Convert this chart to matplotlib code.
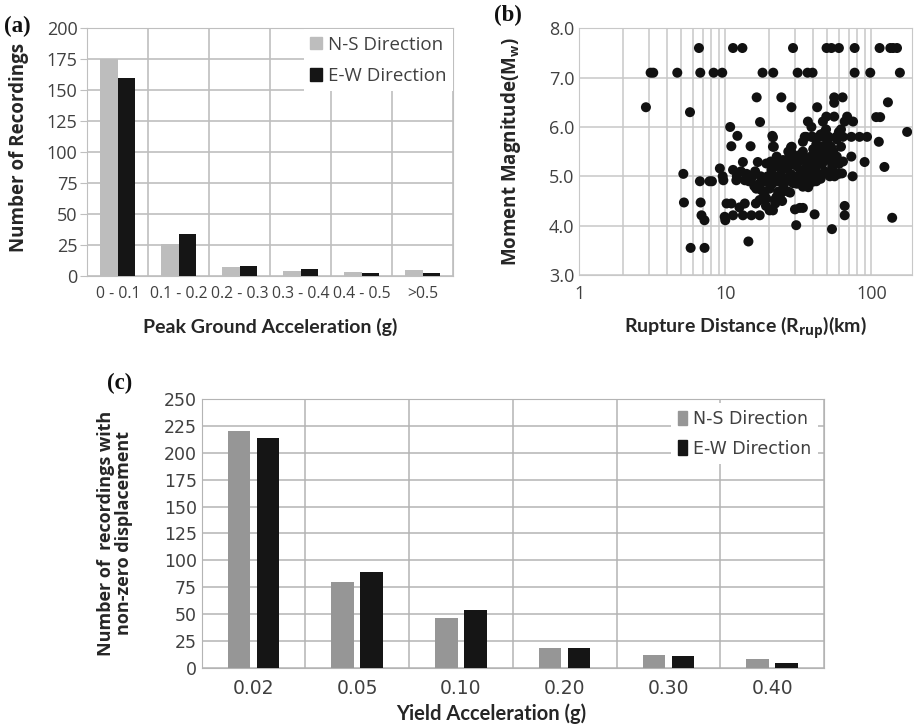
import matplotlib.pyplot as plt
import numpy as np
from matplotlib.patches import Patch

plt.rcParams["mathtext.fontset"] = "custom"
plt.rcParams["mathtext.rm"] = "Open Sans"
plt.rcParams["mathtext.bf"] = "Open Sans:bold"

# (a) peak ground acceleration histogram
pga_bins = ["0 - 0.1", "0.1 - 0.2", "0.2 - 0.3", "0.3 - 0.4", "0.4 - 0.5", ">0.5"]
pga_ns = [175, 26, 7, 4, 3, 5]
pga_ew = [160, 34, 8, 6, 2, 2]

# (b) magnitude vs rupture distance
rup_km = [
    6.6, 11.3, 13.1, 29.1, 49.4, 53.3, 60.0, 76.9, 114, 135, 141, 150,
    3.08, 3.21, 4.69, 6.74, 8.32, 9.53, 18.0, 21.3, 31.3, 36.6, 39.6, 76.9, 98.4, 157,
    2.86, 5.73, 16.4, 24.2, 28.4, 42.6, 55.7, 63.6, 55.7, 130, 17.3, 36.8, 38.9, 10.8,
    46.6, 49.2, 55.7, 68.3, 75.0, 65.7, 108, 115, 176, 12.1, 11.0, 14.9, 21.0, 21.5, 28.5,
    35.0, 38.9, 44.3, 50.6, 57.6, 64.0, 73.0, 83.0, 93.5,
    112.6, 73, 90, 123, 63, 74.5, 65.7, 65.7, 139, 53.8, 30.6, 34, 32.4, 30, 40.9, 14.4,
    5.79, 7.21, 5.16, 5.21, 6.7, 7.8, 8.1, 6.78, 6.87, 7.2, 9.18, 9.6, 9.7,
    11.3, 13.2, 11.9, 13.6, 15.5, 16.7, 19.1, 20.7, 16.3, 17.7, 20.1, 17.2, 19.1, 21.8,
    23.0, 10.2, 11.0, 12.5, 13.6, 9.9, 11.3, 13.2, 15.1, 17.2, 20.1, 10.0, 12.0, 14.5,
    12.8, 14.0, 15.0, 16.0, 17.5, 18.5, 19.5, 17.0, 15.8, 18.5, 16.2, 19.0, 21.2, 22.4,
    21.2, 21.2, 28.2, 34, 35.8, 39.7, 34, 33, 37.8, 27.5, 24.9, 22.5, 23, 25, 27, 29, 31,
    33, 35, 38, 22, 24, 26, 28, 30, 32, 36, 21, 23, 25, 28, 31, 39.7, 34, 29.2, 26.9, 24,
    22, 24.5, 27.8, 29, 31, 33, 36, 38.5, 40, 26, 30, 36, 34, 37, 20.5, 22.5, 27,
    42, 44, 45, 46, 47, 48, 49, 50, 51, 52, 53, 54, 55, 56, 52, 50, 48, 46, 44, 42, 41,
    43, 45, 47, 49, 51, 53, 55, 57, 58, 60, 62, 55.7, 58, 60, 62, 45, 40, 42, 40, 38.5,
    60, 64,
]
mw = [
    7.6, 7.6, 7.6, 7.6, 7.6, 7.6, 7.6, 7.6, 7.6, 7.6, 7.6, 7.6,
    7.1, 7.1, 7.1, 7.1, 7.1, 7.1, 7.1, 7.1, 7.1, 7.1, 7.1, 7.1, 7.1, 7.1,
    6.4, 6.3, 6.6, 6.6, 6.4, 6.4, 6.6, 6.6, 6.49, 6.5, 6.1, 6.11, 6.0, 6.0,
    6.11, 6.21, 6.21, 6.21, 6.11, 6.11, 6.2, 6.2, 5.9, 5.82, 5.61, 5.61, 5.82, 5.6, 5.6,
    5.8, 5.8, 5.8, 5.8, 5.8, 5.8, 5.8, 5.8, 5.8,
    5.7, 5.4, 5.29, 5.19, 5.06, 5.0, 4.4, 4.21, 4.16, 3.93, 4.01, 4.36, 4.36, 4.33, 4.23, 3.68,
    3.55, 3.55, 5.05, 4.47, 4.9, 4.9, 4.9, 4.47, 4.21, 4.11, 5.16, 5.0, 4.92,
    5.13, 5.29, 4.92, 4.92, 5.02, 5.29, 5.26, 5.13, 4.75, 4.72, 4.75, 4.52, 4.55, 4.52,
    4.69, 4.45, 4.45, 4.37, 4.45, 4.18, 4.21, 4.21, 4.21, 4.21, 4.31, 4.11, 5.0, 4.9,
    5.1, 5.05, 4.95, 5.1, 5.0, 4.9, 5.0, 4.85, 4.8, 4.62, 4.45, 4.4, 4.31, 4.58,
    5.79, 5.6, 5.59, 5.7, 5.8, 5.8, 5.5, 5.33, 5.19, 5.4, 5.33, 5.4, 5.2, 5.15, 5.2, 5.25, 5.2,
    5.1, 5.05, 5.0, 5.0, 5.05, 4.95, 5.05, 5.0, 5.0, 4.95, 4.85, 4.9, 4.8, 4.9, 4.85, 4.89,
    4.79, 4.86, 4.69, 4.65,
    4.45, 4.5, 4.67, 5.45, 5.35, 5.45, 5.35, 5.4, 5.3, 5.3, 5.3, 5.2, 4.95, 4.78, 5.3, 5.25, 5.5,
    5.2, 5.3, 5.45, 5.6, 5.8, 5.9, 5.95, 5.7, 5.5, 5.4, 5.3, 5.2, 5.1, 5.0, 5.0, 5.05, 5.1,
    5.25, 5.5, 5.65, 5.4, 5.05, 4.95, 5.35, 5.6, 5.8, 5.6, 5.5, 5.3, 5.4, 5.25, 5.6, 5.29,
    5.75, 5.9, 5.95, 5.85, 5.55, 4.9, 5.0, 5.15, 5.05, 5.3,
]

# (c) recordings with non-zero displacement
yield_acc = ["0.02", "0.05", "0.10", "0.20", "0.30", "0.40"]
disp_ns = [220, 80, 46, 18, 12, 8]
disp_ew = [214, 89, 54, 18, 11, 4]

tick_col = "#404040"
label_col = "#262626"
grid_col = "#bfbfbf"
black = "#151515"

fig = plt.figure(figsize=(9.14, 7.27), dpi=100)

# ---------------- panel (a)
ax = fig.add_axes([0.0955, 0.6204, 0.4001, 0.3411])
x = np.arange(len(pga_bins))
ax.bar(x - 0.143, pga_ns, 0.286, color="#bdbdbd", zorder=3)
ax.bar(x + 0.143, pga_ew, 0.286, color=black, zorder=3)
ax.set_xlim(-0.5, len(pga_bins) - 0.5)
ax.set_ylim(0, 200)
ax.set_yticks(np.arange(0, 201, 25))
ax.set_xticks(x)
ax.set_xticklabels(pga_bins)
ax.set_xticks(np.arange(-0.5, len(pga_bins)), minor=True)
ax.grid(True, which="minor", axis="x", color=grid_col, lw=1.2)
ax.grid(True, which="major", axis="y", color=grid_col, lw=1.2)
ax.set_axisbelow(True)
ax.tick_params(axis="x", which="both", length=0, labelsize=11.3, labelcolor=tick_col,
               pad=7, labelfontfamily="Open Sans")
ax.tick_params(axis="y", length=5, color=grid_col, labelsize=13, labelcolor=tick_col,
               pad=2, labelfontfamily="Open Sans")
for s in ax.spines.values():
    s.set_color(grid_col)
ax.set_ylabel("Number of Recordings", fontsize=13.5, fontweight="bold",
              family="Open Sans", color=label_col)
ax.yaxis.set_label_coords(-0.16, 0.52)
ax.set_xlabel("Peak Ground Acceleration (g)", fontsize=14, fontweight="bold",
              family="Lato", color=label_col)
ax.xaxis.set_label_coords(0.5, -0.17)
handles = [Patch(color="#bdbdbd", label="N-S Direction"),
           Patch(color=black, label="E-W Direction")]
leg = ax.legend(handles=handles, loc="upper right", bbox_to_anchor=(1.0, 0.995),
                frameon=True, fancybox=False, framealpha=1, edgecolor="none",
                prop={"family": "Open Sans", "size": 13.5}, handlelength=0.65,
                handleheight=0.65, handletextpad=0.3, labelspacing=0.7,
                borderpad=0.35, borderaxespad=0)
for t in leg.get_texts():
    t.set_color(tick_col)
leg.set_zorder(5)

# ---------------- panel (b)
bx = fig.add_axes([0.6338, 0.6217, 0.364, 0.3394])
bx.scatter(rup_km, mw, s=52, color="#111111", edgecolors="none", zorder=3)
bx.set_xscale("log")
bx.set_xlim(1, 190)
bx.set_ylim(3, 8)
bx.set_yticks(np.arange(3, 8.01, 1))
bx.set_yticklabels([f"{v:.1f}" for v in np.arange(3, 8.01, 1)])
bx.set_xticks([1, 10, 100])
bx.set_xticklabels(["1", "10", "100"])
bx.grid(True, which="both", axis="x", color="#c8c8c8", lw=1.1)
bx.grid(True, which="major", axis="y", color="#c8c8c8", lw=1.1)
bx.set_axisbelow(True)
bx.tick_params(which="both", length=0, labelsize=13, labelcolor=tick_col,
               labelfontfamily="Open Sans")
bx.tick_params(axis="x", pad=7)
bx.xaxis.set_minor_formatter(plt.NullFormatter())
for s in bx.spines.values():
    s.set_color("#c8c8c8")
bx.set_ylabel(r"Moment Magnitude(M$_{\mathbf{w}}$)", fontsize=13.5,
              fontweight="bold", family="Open Sans", color=label_col)
bx.yaxis.set_label_coords(-0.17, 0.5)
bx.set_xlabel(r"Rupture Distance (R$_{\mathbf{rup}}$)(km)", fontsize=14,
              fontweight="bold", family="Lato", color=label_col)
bx.xaxis.set_label_coords(0.5, -0.16)

# ---------------- panel (c)
cx = fig.add_axes([0.2207, 0.0816, 0.6808, 0.3692])
xc = np.arange(len(yield_acc))
cx.bar(xc - 0.141, disp_ns, 0.217, color="#969696", zorder=3)
cx.bar(xc + 0.139, disp_ew, 0.217, color=black, zorder=3)
cx.set_xlim(-0.5, len(yield_acc) - 0.5)
cx.set_ylim(0, 250)
cx.set_yticks(np.arange(0, 251, 25))
cx.set_xticks(xc)
cx.set_xticklabels(yield_acc)
cx.set_xticks(np.arange(-0.5, len(yield_acc)), minor=True)
cx.grid(True, which="minor", axis="x", color="#b4b4b4", lw=1.1)
cx.grid(True, which="major", axis="y", color="#b4b4b4", lw=1.1)
cx.set_axisbelow(True)
cx.tick_params(axis="y", length=0, labelsize=12.5, labelcolor=tick_col,
               labelfontfamily="Liberation Sans Narrow")
cx.tick_params(axis="x", which="both", length=0, labelsize=13.5, labelcolor=tick_col,
               pad=8, labelfontfamily="Liberation Sans Narrow")
for s in cx.spines.values():
    s.set_color("#b4b4b4")
cx.set_ylabel("Number of  recordings with\nnon-zero displacement", fontsize=13,
              fontweight="bold", family="Open Sans", color=label_col,
              linespacing=1.0)
cx.yaxis.set_label_coords(-0.11, 0.5)
cx.set_xlabel("Yield Acceleration (g)", fontsize=14.5, fontweight="bold",
              family="Lato", color=label_col)
cx.xaxis.set_label_coords(0.465, -0.135)
handles = [Patch(color="#969696", label="N-S Direction"),
           Patch(color=black, label="E-W Direction")]
leg = cx.legend(handles=handles, loc="upper right", bbox_to_anchor=(0.99, 0.985),
                frameon=True, fancybox=False, framealpha=1, edgecolor="none",
                prop={"family": "Liberation Sans Narrow", "size": 12.5},
                handlelength=0.55, handleheight=0.9, handletextpad=0.3,
                labelspacing=0.65, borderpad=0.4, borderaxespad=0)
for t in leg.get_texts():
    t.set_color(tick_col)

# panel letters
for lab, px, py in [("(a)", 4, 26), ("(b)", 494, 15), ("(c)", 107, 383)]:
    fig.text(px / 914, 1 - py / 727, lab, fontsize=16.5, fontweight="bold",
             family="Liberation Serif", va="center", ha="left", color="#111111")

fig.savefig("out.png", dpi=100)
